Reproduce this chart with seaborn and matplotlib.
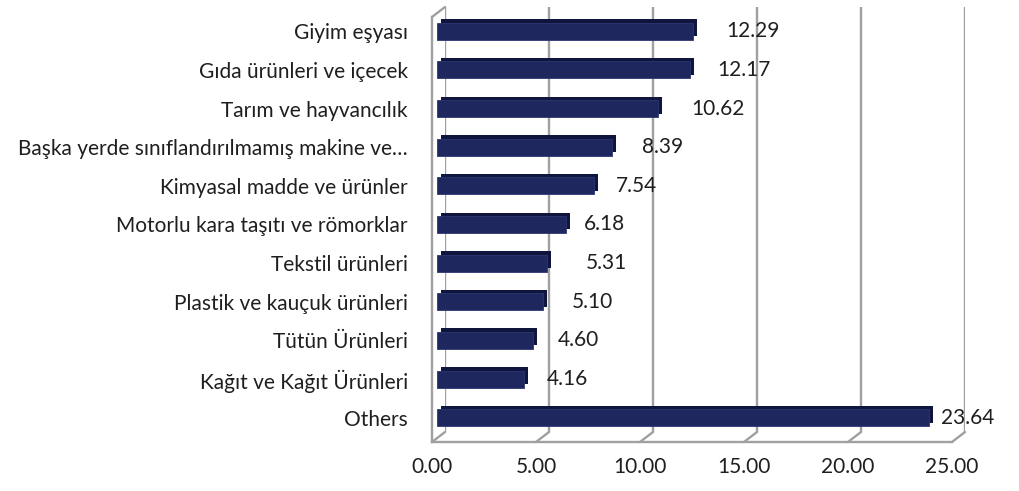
import matplotlib
matplotlib.use("Agg")
import matplotlib.pyplot as plt
import matplotlib.transforms as mtransforms
from matplotlib.lines import Line2D
from matplotlib.patches import Rectangle
import seaborn as sns
import pandas as pd

# data
categories = ["Giyim eşyası", "Gıda ürünleri ve içecek", "Tarım ve hayvancılık",
              "Başka yerde sınıflandırılmamış makine ve…", "Kimyasal madde ve ürünler",
              "Motorlu kara taşıtı ve römorklar", "Tekstil ürünleri",
              "Plastik ve kauçuk ürünleri", "Tütün Ürünleri",
              "Kağıt ve Kağıt Ürünleri", "Others"]
shares = [12.29, 12.17, 10.62, 8.39, 7.54, 6.18, 5.31, 5.10, 4.60, 4.16, 23.64]
x_ticks = [0, 5, 10, 15, 20, 25]

# gap in px between bar end and value label (excel put them unevenly)
label_gap = [34, 27, 33, 30, 22, 18, 38, 29, 25, 23, 12]

df = pd.DataFrame({"cat": categories, "share": shares})

sns.set_style("white")
plt.rcParams["font.family"] = ["Lato", "DejaVu Sans"]
FS = 15
TXT = "#1f1f1f"
GRID = "#a0a0a0"
NAVY = "#1f285e"
NAVY_DARK = "#10153d"

W, H = 1020, 491
fig = plt.figure(figsize=(W / 100, H / 100), dpi=100)


def box(left, top, right, bottom):
    return [left / W, 1 - bottom / H, (right - left) / W, (bottom - top) / H]


# back wall, bar plane, front frame (fake 3d like excel)
ax_back = fig.add_axes(box(445, 7, 965, 432))
ax = fig.add_axes(box(437, 12, 957, 437))
ax_front = fig.add_axes(box(432, 17, 952, 442))

for a in (ax_back, ax, ax_front):
    a.set_xlim(0, 25)
    a.set_ylim(10.5, -0.5)
    a.patch.set_visible(False)

# back wall gridlines
ax_back.set_xticks(x_ticks)
ax_back.set_yticks([])
ax_back.tick_params(axis="x", length=0, labelbottom=False)
ax_back.grid(axis="x", color=GRID, linewidth=1.7)
sns.despine(ax=ax_back, left=True, bottom=True)

# bars
sns.barplot(data=df, x="share", y="cat", color=NAVY, saturation=1,
            width=0.44, ax=ax, zorder=3)
ax.set_xlim(0, 25)
ax.set_ylim(10.5, -0.5)
ax.set_xlabel("")
ax.set_ylabel("")
ax.set_xticks([])
ax.tick_params(axis="y", length=0, pad=21, labelsize=FS, labelcolor=TXT)
sns.despine(ax=ax, left=True, bottom=True)

# depth of the bars
shift = mtransforms.ScaledTranslation(4 / 100, 3.5 / 100, fig.dpi_scale_trans)
for p in list(ax.patches):
    side = Rectangle(p.get_xy(), p.get_width(), p.get_height(),
                     facecolor=NAVY_DARK, edgecolor="none", zorder=2,
                     transform=ax.transData + shift)
    ax.add_patch(side)
    p.set_edgecolor("#2d3772")
    p.set_linewidth(0.6)

for i, (v, g) in enumerate(zip(shares, label_gap)):
    ax.annotate(f"{v:.2f}", xy=(v, i), xytext=(g, 0), textcoords="offset pixels",
                va="center", ha="left", fontsize=FS, color=TXT)

# front frame with ticks
ax_front.set_xticks(x_ticks)
ax_front.set_xticklabels([f"{t:.2f}" for t in x_ticks])
ax_front.set_yticks([k - 0.5 for k in range(len(categories) + 1)])
ax_front.set_yticklabels([])
ax_front.tick_params(axis="both", direction="out", length=4, width=1.2,
                     color=GRID, labelsize=FS, labelcolor=TXT)
ax_front.tick_params(axis="x", pad=7)
sns.despine(ax=ax_front)
for s in ("left", "bottom"):
    ax_front.spines[s].set_color(GRID)
    ax_front.spines[s].set_linewidth(1.7)

# diagonals joining front frame to back wall
to_fig = fig.transFigure.inverted()
pairs = [((t, 10.5), (t, 10.5)) for t in x_ticks] + [((0, -0.5), (0, -0.5))]
for pf, pb in pairs:
    a = to_fig.transform(ax_front.transData.transform(pf))
    b = to_fig.transform(ax_back.transData.transform(pb))
    fig.add_artist(Line2D([a[0], b[0]], [a[1], b[1]], color=GRID,
                          linewidth=1.7, transform=fig.transFigure, zorder=0))

fig.savefig("out.png", dpi=100)
